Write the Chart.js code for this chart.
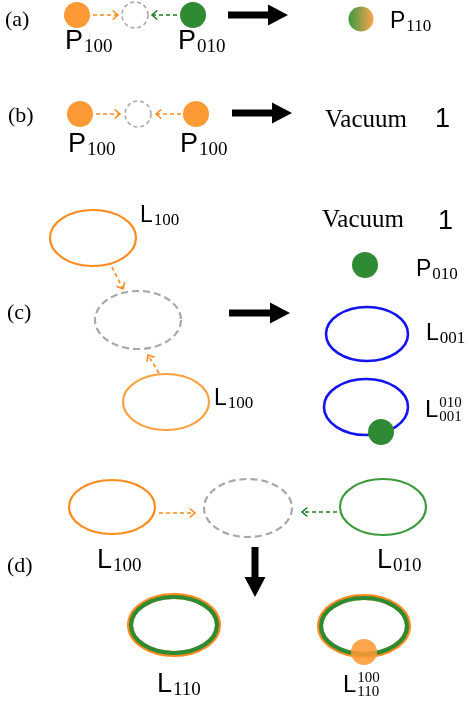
<!DOCTYPE html>
<html>
<head>
<meta charset="utf-8">
<script src="https://cdn.jsdelivr.net/npm/chart.js@4"></script>
<style>
  html, body { margin: 0; padding: 0; background: #fff; }
  canvas { display: block; }
</style>
</head>
<body>
<canvas id="diagram" width="470" height="707"></canvas>
<script>
// positions in picture units (x right, y down)
const orangeDots = [{x: 77, y: 15}, {x: 80, y: 114}, {x: 196, y: 114}];
const greenDots = [{x: 193, y: 15}, {x: 365, y: 265}, {x: 381, y: 432}];
const mixedDots = [{x: 361, y: 19}];
const overlayDots = [{x: 364, y: 652}];
const emptyDots = [{x: 135, y: 15}, {x: 138, y: 114}];

// loops: centre x, centre y, half width, half height
const orangeLoops = [[93, 238, 43, 28], [112, 507, 43, 27]];
const paleLoops = [[166, 402, 43, 28]];
const greyLoops = [[138, 320, 43, 29], [248, 508, 44, 29]];
const blueLoops = [[367, 334, 41, 27], [366, 407, 42, 28]];
const greenLoops = [[383, 507, 43, 28]];
const mixedLoops = [[174, 625, 44, 29], [364, 626, 44, 29]];

// dashed arrows: from x, from y, to x, to y
const orangeArrows = [[93, 15, 118, 15], [96, 114, 120, 114], [181, 114, 156, 114],
  [112, 267, 123, 289], [159, 373, 148, 355], [159, 513, 195, 513]];
const greenArrows = [[177, 15, 152, 15], [337, 512, 302, 512]];
const bigArrows = [[228, 15, 288, 15], [232, 113, 292, 113], [229, 313, 290, 313], [255, 547, 255, 597]];

// labels: text, x, y, subscript, superscript
const panelLabels = [["(a)", 5, 26], ["(b)", 8, 122], ["(c)", 7, 319], ["(d)", 7, 572]];
const wordLabels = [["Vacuum", 325, 127], ["Vacuum", 322, 227]];
const oneLabels = [["1", 435, 127], ["1", 438, 229]];
const bigLabels = [["P", 65, 49, "100"], ["P", 178, 49, "010"], ["P", 68, 152, "100"], ["P", 180, 152, "100"],
  ["L", 97, 568, "100"], ["L", 377, 568, "010"], ["L", 157, 692, "110"]];
const midLabels = [["P", 390, 28, "110"], ["L", 140, 222, "100"], ["L", 214, 405, "100"],
  ["P", 416, 276, "010"], ["L", 426, 340, "001"]];
const stackLabels = [["L", 425, 417, "001", "010"], ["L", 343, 692, "110", "100"]];

const ORANGE = '#fd9a36', GREEN = '#2e8b34', BLUE = '#1414f0', GREY = '#a8a8a8';
const SERIF = '"Liberation Serif", "DejaVu Serif", serif';
const SANS = '"Liberation Sans", "DejaVu Sans", sans-serif';

function px(chart, x, y) {
  return [chart.scales.x.getPixelForValue(x), chart.scales.y.getPixelForValue(y)];
}

function loop(chart, l, color, width, dash) {
  const ctx = chart.ctx;
  const [cx, cy] = px(chart, l[0], l[1]);
  const [ex, ey] = px(chart, l[0] + l[2], l[1] + l[3]);
  ctx.save();
  ctx.strokeStyle = color;
  ctx.lineWidth = width;
  ctx.setLineDash(dash || []);
  ctx.beginPath();
  ctx.ellipse(cx, cy, Math.abs(ex - cx), Math.abs(ey - cy), 0, 0, Math.PI * 2);
  ctx.stroke();
  ctx.restore();
}

function dashedArrow(chart, a, color) {
  const ctx = chart.ctx;
  const [x0, y0] = px(chart, a[0], a[1]);
  const [x1, y1] = px(chart, a[2], a[3]);
  const ang = Math.atan2(y1 - y0, x1 - x0);
  ctx.save();
  ctx.strokeStyle = color;
  ctx.lineWidth = 1.6;
  ctx.setLineDash([4, 3]);
  ctx.beginPath();
  ctx.moveTo(x0, y0);
  ctx.lineTo(x1, y1);
  ctx.stroke();
  ctx.setLineDash([]);
  const h = 7;
  ctx.beginPath();
  ctx.moveTo(x1 - h * Math.cos(ang - 0.7), y1 - h * Math.sin(ang - 0.7));
  ctx.lineTo(x1, y1);
  ctx.lineTo(x1 - h * Math.cos(ang + 0.7), y1 - h * Math.sin(ang + 0.7));
  ctx.stroke();
  ctx.restore();
}

function bigArrow(chart, a) {
  const ctx = chart.ctx;
  const [x0, y0] = px(chart, a[0], a[1]);
  const [x1, y1] = px(chart, a[2], a[3]);
  const len = Math.hypot(x1 - x0, y1 - y0);
  const ang = Math.atan2(y1 - y0, x1 - x0);
  const shaft = 3.5, head = 10.5, headLen = 20;
  ctx.save();
  ctx.translate(x0, y0);
  ctx.rotate(ang);
  ctx.fillStyle = '#000';
  ctx.beginPath();
  ctx.moveTo(0, -shaft);
  ctx.lineTo(len - headLen, -shaft);
  ctx.lineTo(len - headLen, -head);
  ctx.lineTo(len, 0);
  ctx.lineTo(len - headLen, head);
  ctx.lineTo(len - headLen, shaft);
  ctx.lineTo(0, shaft);
  ctx.closePath();
  ctx.fill();
  ctx.restore();
}

function label(chart, l, font, subFont, drop, rise) {
  const ctx = chart.ctx;
  const [x, y] = px(chart, l[1], l[2]);
  ctx.font = font;
  ctx.fillText(l[0], x, y);
  const w = ctx.measureText(l[0]).width + 1;
  ctx.font = subFont;
  if (l[3]) ctx.fillText(l[3], x + w, y + drop);
  if (l[4]) ctx.fillText(l[4], x + w, y - rise);
}

const diagramPlugin = {
  id: 'diagram',
  beforeDatasetsDraw(chart) {
    emptyDots.forEach(d => loop(chart, [d.x, d.y, 13, 13], GREY, 1.6, [4, 3]));
    orangeLoops.forEach(l => loop(chart, l, '#ff8a1c', 2.2));
    paleLoops.forEach(l => loop(chart, l, '#fba040', 2.2));
    greyLoops.forEach(l => loop(chart, l, GREY, 2.2, [7, 4]));
    blueLoops.forEach(l => loop(chart, l, BLUE, 2.6));
    greenLoops.forEach(l => loop(chart, l, '#3a9a3c', 2.2));
    mixedLoops.forEach(l => {
      loop(chart, l, '#ff8a1c', 6);
      loop(chart, [l[0], l[1], l[2] - 1, l[3] - 1], GREEN, 4.2);
    });
    orangeArrows.forEach(a => dashedArrow(chart, a, '#ff8a1c'));
    greenArrows.forEach(a => dashedArrow(chart, a, '#1f7a22'));
    bigArrows.forEach(a => bigArrow(chart, a));
  },
  afterDatasetsDraw(chart) {
    const ctx = chart.ctx;
    ctx.save();
    ctx.fillStyle = '#000';
    ctx.textBaseline = 'alphabetic';
    panelLabels.forEach(l => label(chart, l, '22px ' + SERIF, '', 0, 0));
    wordLabels.forEach(l => label(chart, l, '25px ' + SERIF, '', 0, 0));
    oneLabels.forEach(l => label(chart, l, '27px ' + SANS, '', 0, 0));
    bigLabels.forEach(l => label(chart, l, '27px ' + SANS, '19px ' + SERIF, 3, 0));
    midLabels.forEach(l => label(chart, l, '23px ' + SANS, '17px ' + SERIF, 3, 0));
    stackLabels.forEach(l => label(chart, l, '24px ' + SANS, '15px ' + SERIF, 4, 10));
    ctx.restore();
  }
};

function mixedFill(context) {
  const chart = context.chart;
  const raw = context.raw;
  if (!raw || !chart.scales || !chart.scales.x) return ORANGE;
  const x = chart.scales.x.getPixelForValue(raw.x);
  if (!isFinite(x)) return ORANGE;
  const g = chart.ctx.createLinearGradient(x - 12, 0, x + 12, 0);
  g.addColorStop(0, '#3c9a42');
  g.addColorStop(1, '#fba24a');
  return g;
}

new Chart(document.getElementById('diagram'), {
  type: 'scatter',
  data: {
    datasets: [
      { data: orangeDots, pointRadius: 13, backgroundColor: ORANGE, borderWidth: 0 },
      { data: greenDots, pointRadius: 13, backgroundColor: GREEN, borderWidth: 0 },
      { data: mixedDots, pointRadius: 12.5, backgroundColor: mixedFill, borderWidth: 0 },
      { data: overlayDots, pointRadius: 13, backgroundColor: 'rgba(253,154,54,0.88)', borderWidth: 0 }
    ]
  },
  options: {
    responsive: false,
    animation: false,
    events: [],
    layout: { padding: 0, autoPadding: false },
    plugins: { legend: { display: false }, tooltip: { enabled: false } },
    scales: {
      x: { type: 'linear', min: 0, max: 470, display: false },
      y: { type: 'linear', min: 0, max: 707, reverse: true, display: false }
    }
  },
  plugins: [diagramPlugin]
});
</script>
</body>
</html>
